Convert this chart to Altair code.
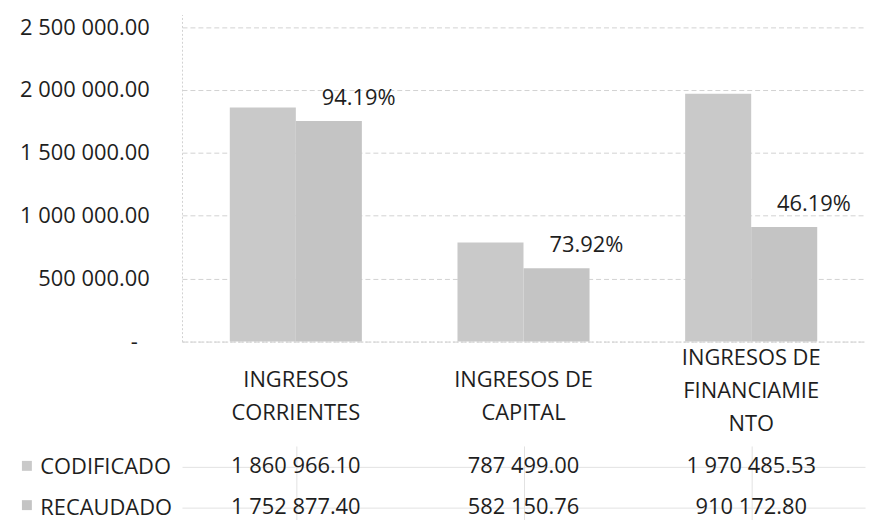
import altair as alt
import pandas as pd

# ---- data ----
categories = ["INGRESOS CORRIENTES", "INGRESOS DE CAPITAL", "INGRESOS DE FINANCIAMIENTO"]
category_lines = [["INGRESOS", "CORRIENTES"], ["INGRESOS DE", "CAPITAL"], ["INGRESOS DE", "FINANCIAMIE", "NTO"]]
series = ["CODIFICADO", "RECAUDADO"]
codificado = [1860966.10, 787499.00, 1970485.53]
recaudado = [1752877.40, 582150.76, 910172.80]
y_ticks = [0, 500000, 1000000, 1500000, 2000000, 2500000]

FONT = "Open Sans"
FS = 22
TXT = "#1e1e1e"
GRID = "#d2d2d2"
BAR_COLORS = ["#c9c9c9", "#c4c4c4"]

rows = []
for c, a, b in zip(categories, codificado, recaudado):
    rows.append({"categoria": c, "serie": series[0], "valor": a})
    rows.append({"categoria": c, "serie": series[1], "valor": b})
df = pd.DataFrame(rows)

pct_df = pd.DataFrame({
    "categoria": categories,
    "serie": series[1],
    "valor": recaudado,
    "pct": [b / a for a, b in zip(codificado, recaudado)],
})

# multi-line label expression
def js_arr(lines):
    return "[" + ",".join("'" + s + "'" for s in lines) + "]"

label_expr = "datum.label"
for c, lines in reversed(list(zip(categories, category_lines))):
    label_expr = f"datum.label == '{c}' ? {js_arr(lines)} : ({label_expr})"

three_line = [c for c, lines in zip(categories, category_lines) if len(lines) == 3]
three_test = f"indexof({js_arr(three_line)}, datum.value) >= 0"

x_scale = alt.Scale(domain=categories, paddingInner=0.42, paddingOuter=0.21)
off_scale = alt.Scale(domain=series, paddingInner=0, paddingOuter=0)

base = alt.Chart(df)

bars = base.mark_bar().encode(
    x=alt.X("categoria:N", sort=categories, scale=x_scale,
            axis=alt.Axis(title=None, labelExpr=label_expr, labelAngle=0,
                          labelFontSize=FS, labelLineHeight=33,
                          labelPadding={"condition": {"test": three_test, "value": 16}, "value": 38},
                          labelBaseline="middle", labelColor=TXT, labelFont=FONT,
                          ticks=False, domain=True, domainColor=GRID, domainDash=[2, 2],
                          minExtent=105)),
    xOffset=alt.XOffset("serie:N", sort=series, scale=off_scale),
    y=alt.Y("valor:Q", scale=alt.Scale(domain=[0, 2500000]),
            axis=alt.Axis(title=None, values=y_ticks, format=",.2f",
                          labelExpr="datum.value == 0 ? '-' : datum.label",
                          labelFontSize=FS,
                          labelPadding={"condition": {"test": "datum.value == 0", "value": 45}, "value": 33},
                          labelColor=TXT, labelFont=FONT,
                          ticks=False, domain=True, domainColor=GRID, domainDash=[2, 2],
                          grid=True, gridColor=GRID, gridDash=[5, 3],
                          minExtent=175)),
    color=alt.Color("serie:N", sort=series,
                    scale=alt.Scale(domain=series, range=BAR_COLORS),
                    legend=alt.Legend(orient="none", legendX=-161, legendY=449,
                                      direction="vertical", title=None,
                                      symbolType="square", symbolSize=100,
                                      symbolStrokeWidth=0,
                                      labelExpr="''", rowPadding=29.5)),
)

pct_text = alt.Chart(pct_df).mark_text(
    fontSize=FS, font=FONT, color=TXT, dx=30, dy=-23, baseline="middle"
).encode(
    x=alt.X("categoria:N", sort=categories, scale=x_scale),
    xOffset=alt.XOffset("serie:N", sort=series, scale=off_scale),
    y=alt.Y("valor:Q"),
    text=alt.Text("pct:Q", format=".2%"),
)

top = alt.layer(bars, pct_text).properties(width=687, height=329)

table = base.mark_text(fontSize=FS, font=FONT, color=TXT).encode(
    x=alt.X("categoria:N", sort=categories, scale=x_scale,
            axis=alt.Axis(title=None, labels=False, ticks=False, domain=False,
                          grid=True, bandPosition=0, gridColor="#e2e2e2")),
    y=alt.Y("serie:N", sort=series,
            scale=alt.Scale(domain=series, paddingInner=0, paddingOuter=0),
            axis=alt.Axis(title=None, labelAlign="left", labelPadding=143,
                          labelFontSize=FS, labelColor=TXT, labelFont=FONT,
                          ticks=False, domain=False, grid=True, bandPosition=0,
                          gridColor="#e2e2e2", minExtent=175)),
    text=alt.Text("valor:Q", format=",.2f"),
).properties(width=687, height=82)

chart = alt.vconcat(top, table, spacing=0).properties(
    padding={"left": 0, "top": 5, "right": 5, "bottom": 0}
).configure(
    font=FONT,
    locale={"number": {"decimal": ".", "thousands": " ", "grouping": [3], "currency": ["", ""]}},
).configure_view(stroke=None)

chart.save("out.html", embed_options={"renderer": "svg", "actions": False})
